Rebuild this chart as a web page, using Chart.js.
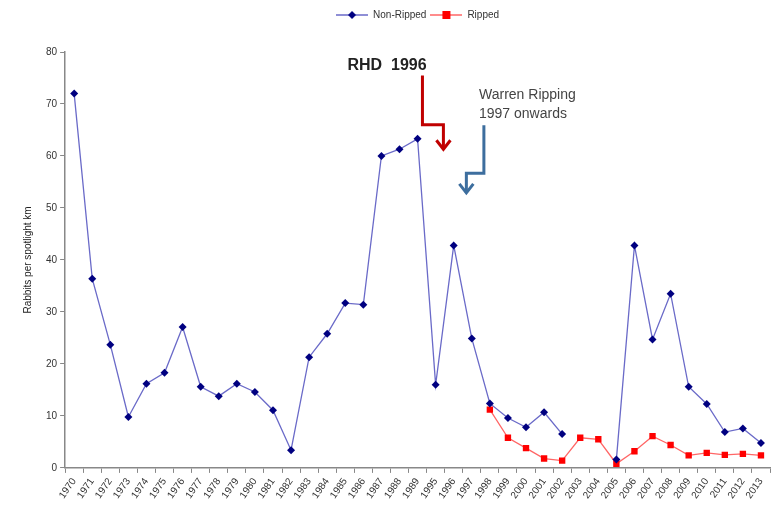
<!DOCTYPE html>
<html>
<head>
<meta charset="utf-8">
<script src="https://cdn.jsdelivr.net/npm/chart.js@4.4.0/dist/chart.umd.min.js"></script>
<style>
  html, body { margin: 0; padding: 0; background: #fff; }
  #wrap { width: 775px; height: 507px; }
</style>
</head>
<body>
<div id="wrap"><canvas id="rabbits"></canvas></div>
<script>
// ===== data =====
const years = [
  "1970", "1971", "1972", "1973", "1974", "1975", "1976", "1977", "1978", "1979",
  "1980", "1981", "1982", "1983", "1984", "1985", "1986", "1987", "1988", "1989",
  "1995", "1996", "1997", "1998", "1999", "2000", "2001", "2002", "2003", "2004",
  "2005", "2006", "2007", "2008", "2009", "2010", "2011", "2012", "2013"
];
const nonRipped = [
  72.0, 36.4, 23.7, 9.8, 16.2, 18.3, 27.1, 15.6, 13.8, 16.2,
  14.6, 11.1, 3.4, 21.3, 25.8, 31.7, 31.4, 60.0, 61.3, 63.3,
  16.0, 42.8, 24.9, 12.4, 9.6, 7.8, 10.7, 6.5, null, null,
  1.6, 42.8, 24.7, 33.5, 15.6, 12.3, 6.9, 7.6, 4.8
];
const ripped = [
  null, null, null, null, null, null, null, null, null, null,
  null, null, null, null, null, null, null, null, null, null,
  null, null, null, 11.2, 5.8, 3.8, 1.8, 1.4, 5.8, 5.5,
  0.8, 3.2, 6.1, 4.4, 2.4, 2.9, 2.5, 2.7, 2.4
];
const yTicks = [0, 10, 20, 30, 40, 50, 60, 70, 80];

Chart.defaults.font.family = "'Liberation Sans', Arial, sans-serif";
Chart.defaults.color = "#333";

// small line+marker pictures for the legend
function legendIcon(lineColor, markerColor, shape) {
  const c = document.createElement("canvas");
  c.width = 32; c.height = 10;
  const g = c.getContext("2d");
  g.strokeStyle = lineColor; g.lineWidth = 1.5;
  g.beginPath(); g.moveTo(0, 5); g.lineTo(32, 5); g.stroke();
  g.fillStyle = markerColor;
  if (shape === "diamond") {
    g.beginPath(); g.moveTo(16, 1); g.lineTo(20, 5); g.lineTo(16, 9); g.lineTo(12, 5); g.closePath(); g.fill();
  } else {
    g.fillRect(12, 1, 8, 8);
  }
  return c;
}
const icons = [legendIcon("#6a6ac8", "#000080", "diamond"), legendIcon("#ff6666", "#ff0000", "square")];

// leave some room under the legend row
const legendGap = {
  id: "legendGap",
  beforeLayout(chart) {
    const lg = chart.legend;
    if (lg && !lg._gapped) {
      const fit = lg.fit.bind(lg);
      lg.fit = function () { fit(); this.height += 22; };
      lg._gapped = true;
    }
  }
};

// arrows and notes, placed through the scales
const notes = {
  id: "notes",
  afterDatasetsDraw(chart) {
    const { ctx, scales: { x, y } } = chart;
    const step = x.getPixelForValue(1) - x.getPixelForValue(0);
    const px = (i, f) => x.getPixelForValue(i) + f * step;

    function arrow(pts, color) {
      ctx.save();
      ctx.strokeStyle = color; ctx.lineWidth = 3; ctx.lineJoin = "miter";
      ctx.beginPath();
      pts.forEach((p, k) => k ? ctx.lineTo(p[0], p[1]) : ctx.moveTo(p[0], p[1]));
      ctx.stroke();
      const tip = pts[pts.length - 1];
      ctx.beginPath();
      ctx.moveTo(tip[0] - 7, tip[1] - 9); ctx.lineTo(tip[0], tip[1]); ctx.lineTo(tip[0] + 7, tip[1] - 9);
      ctx.stroke();
      ctx.restore();
    }

    // RHD 1996
    ctx.save();
    ctx.font = "bold 16px 'Liberation Sans', Arial, sans-serif";
    ctx.fillStyle = "#222"; ctx.textAlign = "right"; ctx.textBaseline = "alphabetic";
    ctx.fillText("RHD  1996", px(19, 0.5), y.getPixelForValue(76.5));
    ctx.restore();
    arrow([
      [px(19, 0.27), y.getPixelForValue(75.5)],
      [px(19, 0.27), y.getPixelForValue(66)],
      [px(19, 1.43), y.getPixelForValue(66)],
      [px(19, 1.43), y.getPixelForValue(61.3)]
    ], "#c00000");

    // Warren ripping
    ctx.save();
    ctx.font = "14px 'Liberation Sans', Arial, sans-serif";
    ctx.fillStyle = "#444"; ctx.textAlign = "left"; ctx.textBaseline = "alphabetic";
    ctx.fillText("Warren Ripping", px(22, 0.4), y.getPixelForValue(70.9));
    ctx.fillText("1997 onwards", px(22, 0.4), y.getPixelForValue(67.4));
    ctx.restore();
    arrow([
      [px(22, 0.67), y.getPixelForValue(65.9)],
      [px(22, 0.67), y.getPixelForValue(56.7)],
      [px(21, 0.7), y.getPixelForValue(56.7)],
      [px(21, 0.7), y.getPixelForValue(52.9)]
    ], "#3d6e9e");
  }
};

const chart = new Chart(document.getElementById("rabbits"), {
  type: "line",
  data: {
    labels: years,
    datasets: [{
      label: "Non-Ripped",
      data: nonRipped,
      borderColor: "#6a6ac8",
      borderWidth: 1.3,
      pointStyle: "rectRot",
      pointRadius: 4,
      pointBackgroundColor: "#000080",
      pointBorderColor: "#000080",
      pointBorderWidth: 0,
      spanGaps: false,
      tension: 0
    }, {
      label: "Ripped",
      data: ripped,
      borderColor: "#ff6666",
      borderWidth: 1.3,
      pointStyle: "rect",
      pointRadius: 4.5,
      pointBackgroundColor: "#ff0000",
      pointBorderColor: "#ff0000",
      pointBorderWidth: 0,
      tension: 0
    }]
  },
  options: {
    responsive: true,
    maintainAspectRatio: false,
    animation: false,
    layout: { padding: { left: 18, right: 5, top: 6, bottom: 3 } },
    plugins: {
      legend: {
        position: "top",
        fullSize: false,
        labels: {
          usePointStyle: true,
          pointStyleWidth: 32,
          padding: 4,
          font: { size: 10 },
          color: "#333",
          generateLabels(c) {
            return Chart.defaults.plugins.legend.labels.generateLabels(c).map((it, i) => {
              it.pointStyle = icons[i];
              return it;
            });
          }
        }
      },
      tooltip: { enabled: false }
    },
    scales: {
      x: {
        offset: true,
        grid: { drawOnChartArea: false, tickLength: 5, color: "#888", offset: true },
        border: { color: "#888", width: 1.5 },
        ticks: { autoSkip: false, maxRotation: 55, minRotation: 55, font: { size: 10 }, color: "#333", padding: 3 }
      },
      y: {
        min: 0,
        max: 80,
        afterBuildTicks: axis => { axis.ticks = yTicks.map(v => ({ value: v })); },
        grid: { drawOnChartArea: false, tickLength: 5, color: "#888" },
        border: { color: "#888", width: 1.5 },
        ticks: { font: { size: 10 }, color: "#333", padding: 3 },
        title: { display: true, text: "Rabbits per spotlight km", font: { size: 10 }, color: "#222", padding: { top: 4, bottom: 9 } }
      }
    }
  },
  plugins: [legendGap, notes]
});
</script>
</body>
</html>
